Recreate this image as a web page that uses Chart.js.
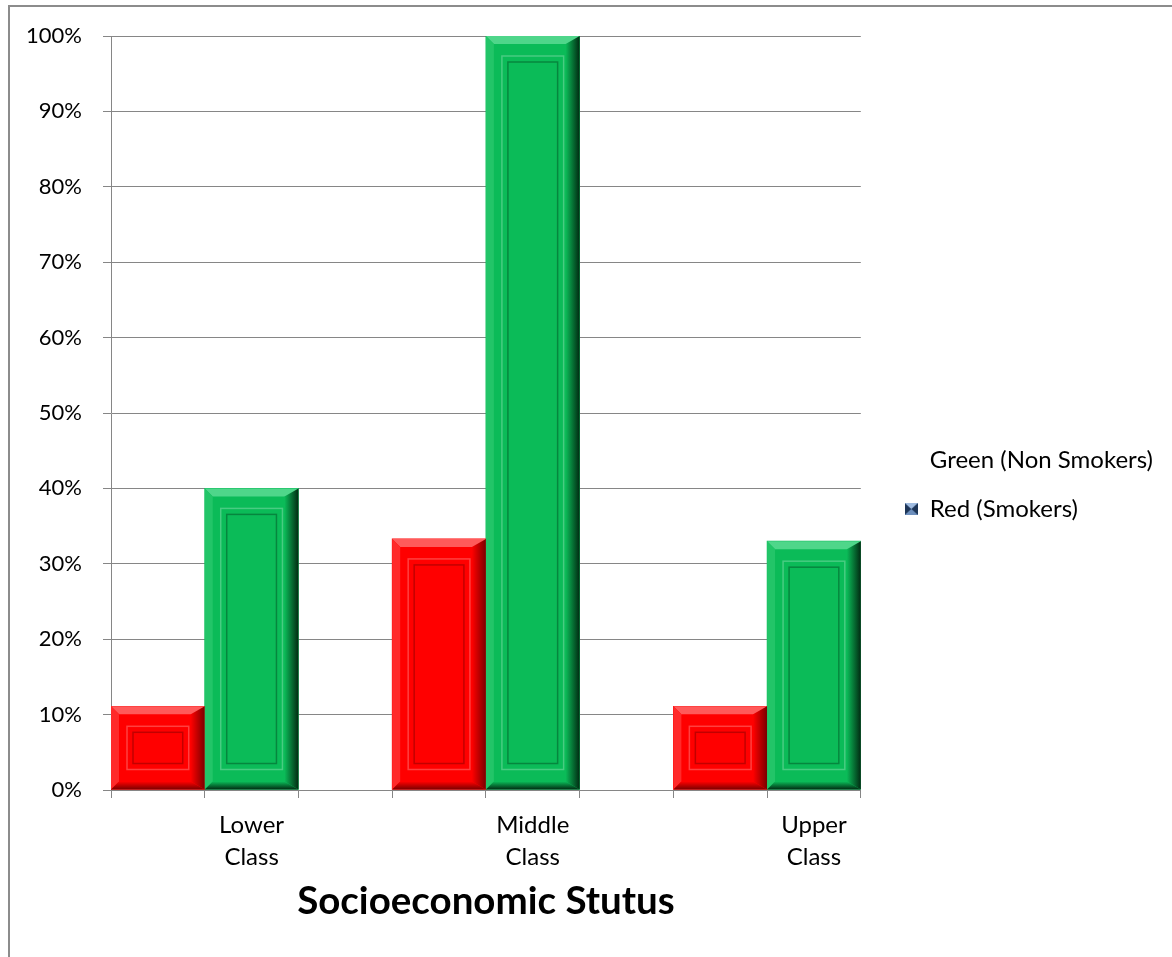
<!DOCTYPE html>
<html>
<head>
<meta charset="utf-8">
<title>Socioeconomic Stutus</title>
<script src="https://cdn.jsdelivr.net/npm/chart.js@4.4.1/dist/chart.umd.min.js"></script>
<style>
    html, body { margin: 0; padding: 0; background: #fff; overflow: hidden; }
    #marco { position: absolute; left: 8px; top: 5px; width: 1400px; height: 1200px; border: 2px solid #8c8c8c; }
    #grafico { position: absolute; left: 0; top: 0; }
</style>
</head>
<body>
<div id="marco"></div>
<canvas id="grafico" width="1172" height="957"></canvas>
<script>
// Datos
const clases = [['Lower', 'Class'], ['Middle', 'Class'], ['Upper', 'Class']];
const fumadores = [11.1, 33.3, 11.1];      // Red (Smokers)
const noFumadores = [40, 100, 33];         // Green (Non Smokers)
const marcasY = [0, 10, 20, 30, 40, 50, 60, 70, 80, 90, 100];
const textosLeyenda = ['Green (Non Smokers)', 'Red (Smokers)'];
const tituloX = 'Socioeconomic Stutus';

// Excel usa una ranura por barra: rojo, verde (con etiqueta), hueco
const ranuras = [];
const datosRojo = [];
const datosVerde = [];
clases.forEach((clase, i) => {
    ranuras.push('');
    datosRojo.push(fumadores[i]);
    datosVerde.push(null);
    ranuras.push(clase);
    datosRojo.push(null);
    datosVerde.push(noFumadores[i]);
    if (i < clases.length - 1) {
        ranuras.push('');
        datosRojo.push(null);
        datosVerde.push(null);
    }
});

const FUENTE = 'Lato, "Open Sans", sans-serif';
const GRIS = '#868686';

const tonos = {
    rojo: { base: '#ff0000', luz: '#ff5a5a', luz2: '#ff2a2a', oscuro: '#7a0000', linea: 'rgba(120,0,0,0.45)' },
    verde: { base: '#0bbb58', luz: '#4fd68a', luz2: '#22c568', oscuro: '#012a12', linea: 'rgba(0,70,30,0.45)' }
};

// Marcador azulado de la leyenda
const marcador = document.createElement('canvas');
marcador.width = 13;
marcador.height = 12;
(function () {
    const c = marcador.getContext('2d');
    c.fillStyle = '#3f6594';
    c.fillRect(0, 0, 13, 12);
    c.fillStyle = '#1d3557';
    c.beginPath(); c.moveTo(0, 0); c.lineTo(6.5, 6); c.lineTo(0, 12); c.fill();
    c.beginPath(); c.moveTo(13, 0); c.lineTo(6.5, 6); c.lineTo(13, 12); c.fill();
    c.fillStyle = '#9fbbe0';
    c.beginPath(); c.moveTo(0, 0); c.lineTo(13, 0); c.lineTo(6.5, 6); c.fill();
    c.fillStyle = '#6d8fbd';
    c.beginPath(); c.moveTo(0, 12); c.lineTo(13, 12); c.lineTo(6.5, 6); c.fill();
})();

// Efecto de bisel sobre cada barra ya colocada por Chart.js
const biselado = {
    id: 'biselado',
    afterDatasetsDraw(chart) {
        const ctx = chart.ctx;
        chart.data.datasets.forEach((ds, i) => {
            const t = tonos[ds.tono];
            chart.getDatasetMeta(i).data.forEach((bar, j) => {
                if (ds.data[j] == null) return;
                const p = bar.getProps(['x', 'y', 'base', 'width'], true);
                const l = p.x - p.width / 2, r = p.x + p.width / 2;
                const top = p.y, b = p.base;
                const e = 8;
                ctx.save();
                // arriba
                ctx.fillStyle = t.luz;
                ctx.beginPath();
                ctx.moveTo(l, top); ctx.lineTo(r, top); ctx.lineTo(r - e, top + e); ctx.lineTo(l + e, top + e);
                ctx.fill();
                // izquierda
                ctx.fillStyle = t.luz2;
                ctx.beginPath();
                ctx.moveTo(l, top); ctx.lineTo(l + e, top + e); ctx.lineTo(l + e, b - e); ctx.lineTo(l, b);
                ctx.fill();
                // derecha
                const g = ctx.createLinearGradient(r - 14, 0, r, 0);
                g.addColorStop(0, t.base);
                g.addColorStop(1, t.oscuro);
                ctx.fillStyle = g;
                ctx.beginPath();
                ctx.moveTo(r, top); ctx.lineTo(r, b); ctx.lineTo(r - 14, b - e); ctx.lineTo(r - 14, top + e);
                ctx.fill();
                // abajo
                const g2 = ctx.createLinearGradient(0, b - e, 0, b);
                g2.addColorStop(0, t.base);
                g2.addColorStop(1, t.oscuro);
                ctx.fillStyle = g2;
                ctx.beginPath();
                ctx.moveTo(l, b); ctx.lineTo(r, b); ctx.lineTo(r - 14, b - e); ctx.lineTo(l + e, b - e);
                ctx.fill();
                // panel interior
                const ix = Math.min(22, p.width / 4);
                const iy = Math.min(26, (b - top) / 3.2);
                ctx.lineWidth = 1.5;
                ctx.strokeStyle = t.linea;
                ctx.strokeRect(l + ix, top + iy, p.width - 2 * ix, b - top - 2 * iy);
                ctx.strokeStyle = 'rgba(255,255,255,0.25)';
                ctx.strokeRect(l + ix - 6, top + iy - 6, p.width - 2 * ix + 12, b - top - 2 * iy + 12);
                ctx.restore();
            });
        });
    }
};

const ctx = document.getElementById('grafico').getContext('2d');
new Chart(ctx, {
    type: 'bar',
    data: {
        labels: ranuras,
        datasets: [
            { label: textosLeyenda[1], data: datosRojo, backgroundColor: tonos.rojo.base, tono: 'rojo',
              borderWidth: 0, categoryPercentage: 1, barPercentage: 1 },
            { label: textosLeyenda[0], data: datosVerde, backgroundColor: tonos.verde.base, tono: 'verde',
              borderWidth: 0, categoryPercentage: 1, barPercentage: 1 }
        ]
    },
    options: {
        responsive: false,
        animation: false,
        devicePixelRatio: 1,
        layout: { padding: { top: 36, right: 9, bottom: 24, left: 0 } },
        plugins: {
            tooltip: { enabled: false },
            legend: {
                position: 'right',
                align: 'center',
                maxWidth: 400,
                labels: {
                    usePointStyle: true,
                    boxWidth: 13,
                    boxHeight: 12,
                    padding: 25,
                    color: '#000',
                    font: { family: FUENTE, size: 24 },
                    generateLabels: () => [
                        { text: textosLeyenda[0], fillStyle: 'rgba(0,0,0,0)', strokeStyle: 'rgba(0,0,0,0)',
                          lineWidth: 0, fontColor: '#000', hidden: false, datasetIndex: 1 },
                        { text: textosLeyenda[1], pointStyle: marcador, fillStyle: '#3f6594', strokeStyle: 'rgba(0,0,0,0)',
                          lineWidth: 0, fontColor: '#000', hidden: false, datasetIndex: 0 }
                    ]
                }
            }
        },
        scales: {
            x: {
                stacked: true,
                offset: true,
                afterFit: s => { s.height = 143; },
                ticks: { color: '#000', font: { family: FUENTE, size: 24, lineHeight: 1.33 }, padding: 11,
                         maxRotation: 0, autoSkip: false },
                grid: { offset: true, drawOnChartArea: false, drawTicks: true, tickLength: 8, color: GRIS },
                border: { color: GRIS },
                title: { display: true, text: tituloX, color: '#000',
                         font: { family: FUENTE, size: 38.5, weight: 'bold', lineHeight: 1.2 },
                         padding: { top: 0, bottom: 8 } }
            },
            y: {
                stacked: true,
                min: 0,
                max: 100,
                afterBuildTicks: s => { s.ticks = marcasY.map(v => ({ value: v })); },
                afterFit: s => { s.width = 111; },
                ticks: { color: '#000', font: { family: FUENTE, size: 22 }, padding: 21, callback: v => v + '%' },
                grid: { color: GRIS, tickLength: 8, drawTicks: true },
                border: { color: GRIS }
            },
            hueco: {
                type: 'linear',
                position: 'right',
                display: true,
                afterFit: s => { s.width = 19; },
                ticks: { display: false },
                grid: { display: false },
                border: { display: false }
            }
        }
    },
    plugins: [biselado]
});
</script>
</body>
</html>
